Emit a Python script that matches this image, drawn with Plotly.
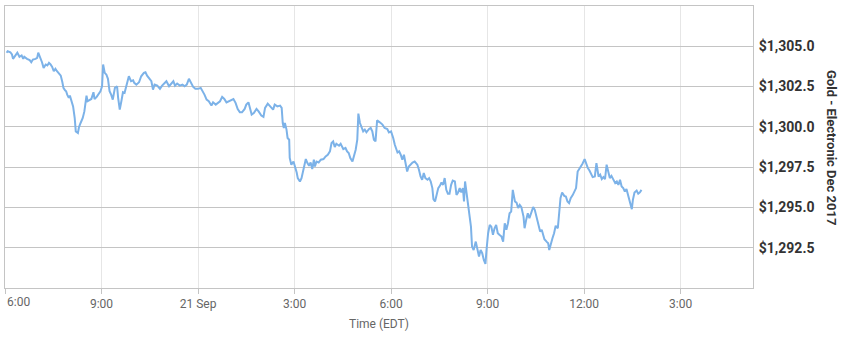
import datetime as dt
import plotly.graph_objects as go

# ---- data ----
session_start = "2017-09-20 18:00"   # left edge of the chart (6:00 PM EDT)
axis_end = "2017-09-21 17:15"

minutes_after_start = [
    3, 5, 10, 13, 15, 20, 23, 27, 31, 34, 36, 41, 46, 49, 52, 57, 60, 62, 66, 69,
    72, 76, 79, 82, 85, 88, 91, 94, 97, 100, 104, 107, 109, 112, 114, 116, 119, 121, 124, 127,
    130, 132, 136, 138, 141, 145, 148, 152, 154, 158, 161, 165, 167, 171, 174, 178, 181, 183, 186, 189,
    192, 195, 198, 201, 205, 209, 211, 214, 217, 220, 223, 227, 231, 235, 239, 241, 245, 250, 254, 259,
    262, 265, 268, 273, 276, 279, 284, 289, 293, 298, 301, 306, 310, 314, 317, 321, 326, 331, 335, 339,
    343, 347, 351, 355, 360, 365, 368, 372, 376, 380, 385, 388, 393, 397, 401, 405, 409, 413, 417, 422,
    426, 430, 434, 438, 442, 447, 450, 454, 457, 460, 464, 469, 473, 478, 482, 485, 490, 495, 500, 503,
    508, 513, 516, 518, 520, 522, 525, 527, 530, 531, 534, 538, 541, 544, 546, 550, 553, 556, 561, 564,
    567, 570, 573, 576, 578, 581, 585, 589, 594, 598, 602, 606, 609, 612, 615, 618, 623, 626, 631, 635,
    638, 641, 644, 648, 651, 654, 657, 659, 662, 665, 668, 671, 674, 679, 682, 685, 688, 691, 694, 699,
    704, 708, 713, 716, 720, 724, 727, 732, 735, 738, 741, 744, 747, 750, 753, 756, 760, 764, 769, 772,
    775, 778, 781, 784, 788, 791, 794, 797, 799, 802, 805, 808, 811, 814, 817, 820, 823, 826, 829, 832,
    835, 839, 842, 845, 848, 851, 854, 856, 858, 860, 864, 866, 869, 871, 874, 878, 881, 884, 887, 890,
    893, 896, 898, 901, 904, 907, 910, 913, 916, 919, 922, 926, 929, 932, 935, 938, 941, 944, 947, 951,
    954, 957, 960, 963, 967, 969, 972, 975, 978, 982, 985, 988, 991, 995, 998, 1001, 1003, 1006, 1010, 1013,
    1015, 1018, 1021, 1024, 1027, 1031, 1033, 1036, 1039, 1043, 1046, 1049, 1052, 1055, 1059, 1062, 1065, 1068, 1071, 1074,
    1077, 1081, 1084, 1087, 1090, 1093, 1096, 1100, 1103, 1107, 1110, 1113, 1116, 1119, 1122, 1125, 1128, 1131, 1135, 1138,
    1141, 1144, 1147, 1150, 1153, 1156, 1159, 1163, 1166, 1169, 1171, 1174, 1178, 1181, 1184, 1187,
]

gold_price = [
    1304.60, 1304.69, 1304.63, 1304.49, 1304.22, 1304.43, 1304.60, 1304.35, 1304.43, 1304.22,
    1304.35, 1304.22, 1304.14, 1304.01, 1304.18, 1304.22, 1304.28, 1304.60, 1304.28, 1304.01,
    1303.66, 1303.87, 1303.81, 1303.97, 1303.87, 1303.72, 1303.45, 1303.60, 1303.45, 1303.35,
    1303.18, 1302.77, 1302.42, 1302.27, 1302.21, 1302.00, 1301.80, 1301.94, 1301.59, 1301.27,
    1300.55, 1299.72, 1299.62, 1299.99, 1300.24, 1300.55, 1300.96, 1301.94, 1301.59, 1301.65,
    1301.73, 1302.15, 1301.73, 1301.86, 1302.00, 1302.21, 1302.52, 1303.87, 1303.35, 1303.25,
    1302.98, 1302.21, 1302.00, 1301.69, 1302.42, 1302.52, 1301.80, 1301.07, 1301.59, 1302.15,
    1302.11, 1302.73, 1303.14, 1302.83, 1302.89, 1302.73, 1302.62, 1302.77, 1303.14, 1303.35,
    1303.39, 1303.18, 1303.04, 1302.83, 1302.31, 1302.62, 1302.56, 1302.36, 1302.56, 1302.77,
    1302.83, 1302.52, 1302.69, 1302.83, 1302.56, 1302.69, 1302.56, 1302.62, 1302.52, 1302.62,
    1302.98, 1302.73, 1302.48, 1302.36, 1302.36, 1302.42, 1302.27, 1302.00, 1301.69, 1301.59,
    1301.32, 1301.52, 1301.38, 1301.49, 1301.59, 1301.86, 1301.73, 1301.52, 1301.59, 1301.65,
    1301.73, 1301.49, 1301.11, 1300.90, 1300.90, 1301.11, 1301.38, 1301.52, 1301.18, 1300.76,
    1300.86, 1301.11, 1300.96, 1300.70, 1300.62, 1301.18, 1301.44, 1301.24, 1301.07, 1301.38,
    1301.27, 1301.32, 1301.18, 1300.24, 1299.93, 1300.24, 1299.83, 1299.31, 1299.20, 1298.07,
    1297.65, 1297.85, 1297.54, 1297.17, 1296.82, 1296.61, 1296.82, 1297.34, 1298.00, 1297.75,
    1297.59, 1297.79, 1297.38, 1297.96, 1297.54, 1297.85, 1297.79, 1297.96, 1298.00, 1298.17,
    1298.27, 1298.48, 1299.00, 1299.10, 1298.75, 1298.95, 1298.83, 1298.95, 1298.62, 1298.69,
    1298.48, 1298.38, 1298.07, 1297.85, 1298.17, 1298.58, 1299.20, 1300.82, 1300.24, 1299.93,
    1299.72, 1299.83, 1299.66, 1299.87, 1299.93, 1299.72, 1299.20, 1299.10, 1300.40, 1300.28,
    1300.14, 1299.93, 1299.87, 1299.66, 1299.72, 1299.31, 1298.89, 1298.41, 1298.48, 1298.27,
    1297.96, 1298.27, 1297.75, 1297.23, 1297.54, 1297.65, 1297.79, 1297.85, 1297.65, 1297.34,
    1296.92, 1296.72, 1297.13, 1296.82, 1296.72, 1296.82, 1296.61, 1296.20, 1295.52, 1295.37,
    1295.89, 1296.20, 1296.34, 1296.55, 1296.40, 1296.82, 1296.09, 1295.85, 1295.85, 1296.40,
    1296.67, 1296.61, 1295.78, 1295.93, 1296.20, 1295.93, 1296.20, 1295.37, 1296.61, 1296.09,
    1295.27, 1294.85, 1293.81, 1292.57, 1292.36, 1292.88, 1292.47, 1291.95, 1292.36, 1292.16,
    1291.74, 1291.49, 1292.36, 1293.40, 1293.92, 1293.81, 1293.30, 1293.71, 1293.92, 1293.40,
    1293.30, 1293.19, 1292.88, 1294.02, 1293.61, 1294.02, 1294.64, 1294.74, 1296.09, 1295.37,
    1295.30, 1294.96, 1295.16, 1295.02, 1294.43, 1293.71, 1294.23, 1294.64, 1294.33, 1294.74,
    1295.02, 1294.85, 1294.43, 1293.81, 1293.50, 1293.61, 1293.30, 1293.03, 1292.88, 1292.78,
    1292.36, 1292.78, 1293.09, 1293.40, 1293.86, 1293.71, 1294.54, 1295.58, 1295.93, 1295.72,
    1295.68, 1295.37, 1295.27, 1295.58, 1295.78, 1295.99, 1296.20, 1297.23, 1297.38, 1297.54,
    1297.71, 1298.00, 1297.65, 1297.44, 1297.29, 1297.09, 1296.88, 1296.92, 1297.75, 1296.92,
    1297.03, 1296.76, 1296.88, 1296.76, 1297.65, 1297.23, 1296.82, 1296.96, 1296.67, 1296.51,
    1296.61, 1296.40, 1296.72, 1296.30, 1296.20, 1295.99, 1296.14, 1295.68, 1295.37, 1294.89,
    1295.47, 1295.93, 1296.05, 1295.85, 1295.93, 1296.09,
]

x_tick_times = ["2017-09-20 18:00", "2017-09-20 21:00", "2017-09-21 00:00", "2017-09-21 03:00",
                "2017-09-21 06:00", "2017-09-21 09:00", "2017-09-21 12:00", "2017-09-21 15:00"]
x_tick_labels = ["6:00", "9:00", "21 Sep", "3:00", "6:00", "9:00", "12:00", "3:00"]
price_ticks = [1292.5, 1295.0, 1297.5, 1300.0, 1302.5, 1305.0]
price_range = [1290.0, 1307.5]

series_name = "Gold - Electronic Dec 2017"
x_title = "Time (EDT)"

# ---- build ----
t0 = dt.datetime.strptime(session_start, "%Y-%m-%d %H:%M")
times = [t0 + dt.timedelta(minutes=m) for m in minutes_after_start]
price_tick_text = ["&#36;" + f"{v:,.1f}" for v in price_ticks]

LINE = "#7cb2e8"
GRID_H = "#c4c4c4"
GRID_V = "#e6e6e6"
BOX = "#c4c4c4"

fig = go.Figure()
fig.add_trace(go.Scatter(
    x=times, y=gold_price, mode="lines", name=series_name,
    line=dict(color=LINE, width=2), hoverinfo="x+y", showlegend=False,
))

fig.update_layout(
    width=853, height=358,
    margin=dict(l=5, r=100, t=6, b=70, autoexpand=False),
    paper_bgcolor="white", plot_bgcolor="white",
    font=dict(family="Roboto, 'Open Sans', sans-serif", color="#666666"),
    xaxis=dict(
        range=[session_start, axis_end],
        tickvals=x_tick_times,
        ticktext=[""] + x_tick_labels[1:],
        ticks="outside", ticklen=5, tickcolor=BOX,
        showgrid=True, gridcolor=GRID_V, gridwidth=1,
        showline=True, linecolor=BOX, linewidth=1, mirror=True,
        tickfont=dict(size=12, color="#666666"),
        zeroline=False, automargin=False,
    ),
    yaxis=dict(
        side="right",
        range=price_range,
        tickvals=price_ticks,
        ticktext=price_tick_text,
        showgrid=True, gridcolor=GRID_H, gridwidth=1,
        showline=True, linecolor=BOX, linewidth=1, mirror=True,
        ticks="", ticklabelstandoff=2,
        tickfont=dict(size=14, color="#333333", weight="bold"),
        zeroline=False, automargin=False,
    ),
    annotations=[
        dict(text=x_tick_labels[0], x=0, xref="paper", y=0, yref="paper",
             xanchor="left", yanchor="top", yshift=-5, showarrow=False,
             font=dict(size=12, color="#666666")),
        dict(text=x_title, x=0.5, xref="paper", y=0, yref="paper",
             xanchor="center", yanchor="middle", yshift=-36, showarrow=False,
             font=dict(size=12, color="#666666")),
        dict(text=series_name, x=1, xref="paper", y=0.5, yref="paper",
             xanchor="center", yanchor="middle", xshift=79, textangle=90,
             showarrow=False,
             font=dict(size=13, color="#333333", weight="bold")),
    ],
)

fig.write_html("out.html",
               config={"displayModeBar": False},
               post_script="document.body.style.margin='0';document.body.style.overflow='hidden';")
